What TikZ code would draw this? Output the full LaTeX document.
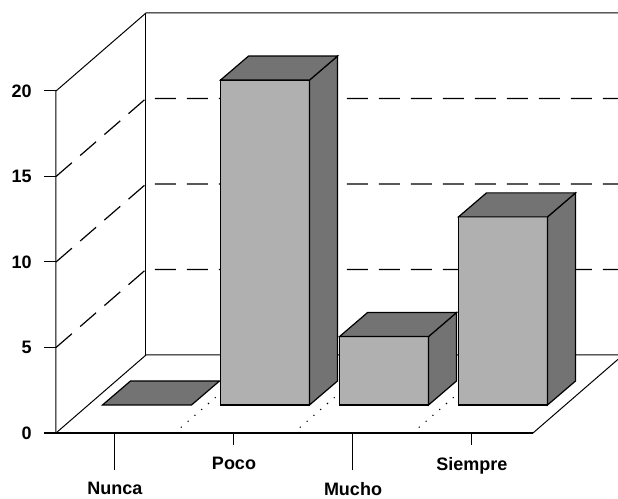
\documentclass[tikz,border=0pt]{standalone}
\usepackage{fontspec}
\setmainfont{Liberation Sans}
\usetikzlibrary{positioning, calc}
\tikzstyle{wall} = [draw, line width=0.5pt]
\tikzstyle{gridline} = [draw, line width=0.6pt, dash pattern=on 10.5pt off 5.5pt]
\tikzstyle{boundary} = [draw, line width=0.8pt, line cap=round, dash pattern=on 0pt off 4.5pt]
\tikzstyle{facefront} = [draw, line width=0.6pt, fill=gray!62]
\tikzstyle{faceside} = [draw, line width=0.6pt, fill=black!55]
\tikzstyle{axislabel} = [inner sep=0pt, font=\bfseries\fontsize{9}{10}\selectfont]

\begin{document}
\begin{tikzpicture}[x=0.5pt, y=0.5pt]
		\clip (-56,-66) rectangle (562,433);
		\coordinate (origin)  at (0,    0);
		\coordinate (floorR)  at (477,  0);
		\coordinate (backL)   at (90,   78);
		\coordinate (backR)   at (570,  78);
		\coordinate (topF)    at (0,    342);
		\coordinate (topB)    at (90,   420);
		\coordinate (topR)    at (570,  420);
		\coordinate (t0)      at (-12,  0);
		\coordinate (t5)      at (-12,  85.5);
		\coordinate (t10)     at (-12,  171);
		\coordinate (t15)     at (-12,  256.5);
		\coordinate (t20)     at (-12,  342);
		\coordinate (cNunca)  at (59,   0);
		\coordinate (cPoco)   at (178,  0);
		\coordinate (cMucho)  at (297,  0);
		\coordinate (cSiempre) at (416, 0);
		\coordinate (nunca)   at (46.5,  28);
		\coordinate (poco)    at (164.5, 28);
		\coordinate (mucho)   at (283.5, 28);
		\coordinate (siempre) at (402.5, 28);

		% walls and floor
		\draw[wall] (origin) -- (topF) -- (topB) -- (topR);
		\draw[wall] (backL) -- (topB);
		\draw[wall] (origin) -- (backL) -- (backR);
		\draw[wall] (floorR) -- ++(90,78);
		\draw[line width=1pt] (t0) -- (floorR);

		% grid lines
		\draw[gridline] (0,85.5) -- (90,163.5) -- (570,163.5);
		\draw[gridline] (0,171) -- (90,249) -- (570,249);
		\draw[gridline] (0,256.5) -- (90,334.5) -- (570,334.5);

		% value axis
		\draw[wall] (t5) -- ++(12,0);
		\draw[wall] (t10) -- ++(12,0);
		\draw[wall] (t15) -- ++(12,0);
		\draw[wall] (t20) -- ++(12,0);
		\node[axislabel, left=6pt of t0] (L0) {0};
		\node[axislabel, left=6pt of t5] (L5) {5};
		\node[axislabel, left=6pt of t10] (L10) {10};
		\node[axislabel, left=6pt of t15] (L15) {15};
		\node[axislabel, left=6pt of t20] (L20) {20};

		% categories
		\draw[wall] (cNunca) -- ++(0,-37) coordinate (eNunca);
		\draw[wall] (cPoco) -- ++(0,-12) coordinate (ePoco);
		\draw[wall] (cMucho) -- ++(0,-37) coordinate (eMucho);
		\draw[wall] (cSiempre) -- ++(0,-12) coordinate (eSiempre);
		\node[axislabel, below=6pt of eNunca] (NUN) {Nunca};
		\node[axislabel, below=6pt of ePoco] (POC) {Poco};
		\node[axislabel, below=6pt of eMucho] (MUC) {Mucho};
		\node[axislabel, below=6pt of eSiempre] (SIE) {Siempre};

		\draw[boundary] (118.5,0) -- ++(60,52);
		\draw[boundary] (237.5,0) -- ++(60,52);
		\draw[boundary] (356.5,0) -- ++(60,52);

		% bars
		\draw[faceside] (nunca) -- ++(28,24) -- ++(89,0) -- ++(-28,-24) -- cycle;

		\draw[facefront] (poco) rectangle ++(89,324.9);
		\draw[faceside] ($(poco)+(89,0)$) -- ++(28,24) -- ++(0,324.9) -- ++(-28,-24) -- cycle;
		\draw[faceside] ($(poco)+(0,324.9)$) -- ++(28,24) -- ++(89,0) -- ++(-28,-24) -- cycle;

		\draw[facefront] (mucho) rectangle ++(89,68.4);
		\draw[faceside] ($(mucho)+(89,0)$) -- ++(28,24) -- ++(0,68.4) -- ++(-28,-24) -- cycle;
		\draw[faceside] ($(mucho)+(0,68.4)$) -- ++(28,24) -- ++(89,0) -- ++(-28,-24) -- cycle;

		\draw[facefront] (siempre) rectangle ++(89,188.1);
		\draw[faceside] ($(siempre)+(89,0)$) -- ++(28,24) -- ++(0,188.1) -- ++(-28,-24) -- cycle;
		\draw[faceside] ($(siempre)+(0,188.1)$) -- ++(28,24) -- ++(89,0) -- ++(-28,-24) -- cycle;

	\end{tikzpicture}
\end{document}
